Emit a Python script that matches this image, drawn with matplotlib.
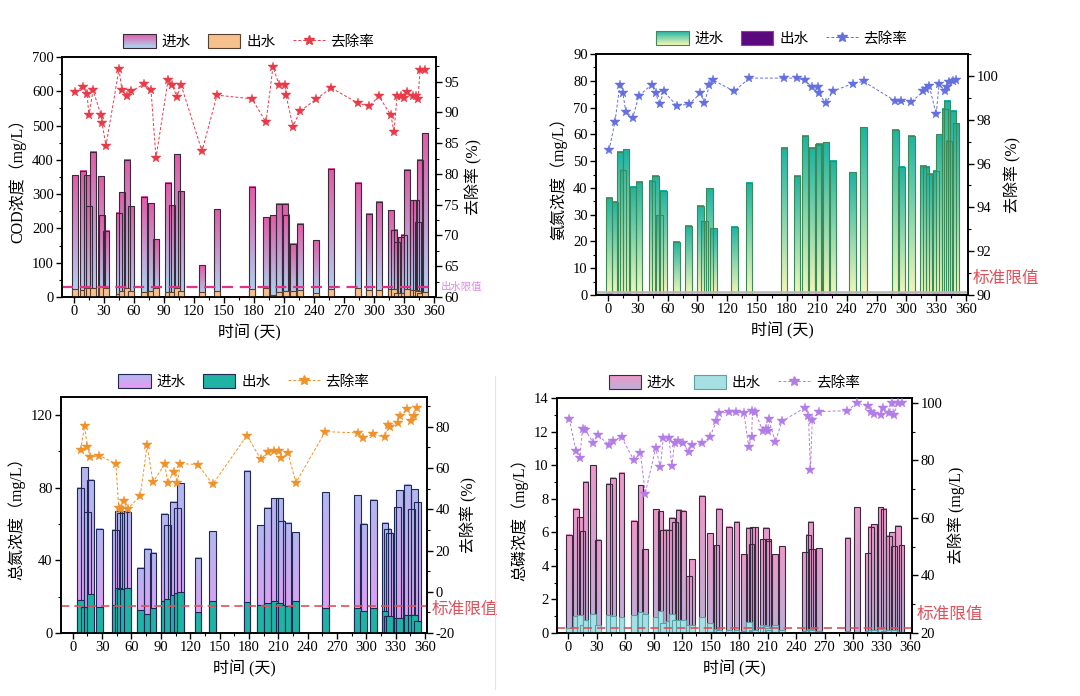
import numpy as np
import matplotlib
matplotlib.use('Agg')
import matplotlib.pyplot as plt
from matplotlib.colors import LinearSegmentedColormap, to_rgb
from matplotlib.patches import Rectangle, Patch
from matplotlib.lines import Line2D
from matplotlib.legend_handler import HandlerBase
from matplotlib.ticker import MultipleLocator, AutoMinorLocator
import matplotlib.transforms as mtransforms

plt.rcParams['font.family'] = ['Liberation Serif', 'Noto Sans CJK SC']
plt.rcParams['axes.unicode_minus'] = False

# ---------------- COD ----------------
cod_days = [1, 9, 13, 15, 19, 27, 28, 32, 45, 48, 53, 57, 70, 77, 82, 94, 98, 103, 107, 128,
            143, 178, 192, 199, 205, 211, 212, 219, 226, 242, 257, 284, 295, 305, 317, 320,
            323, 327, 330, 333, 339, 342, 344, 346, 351]
cod_in = [355, 368, 355, 264, 423, 352, 238, 193, 246, 305, 400, 264, 293, 274, 169, 333, 267,
          417, 309, 92, 256, 322, 232, 239, 272, 272, 240, 156, 213, 165, 374, 333, 243, 278,
          253, 196, 160, 175, 181, 371, 282, 282, 219, 400, 478]
cod_out = [22, 20, 25, 27, 25, 26, 28, 26, 8, 17, 27, 18, 14, 16, 26, 15, 14, 27, 17, 14, 17,
           24, 26, 6, 14, 16, 17, 18, 21, 12, 22, 26, 19, 20, 24, 24, 12, 13, 12, 22, 20, 20,
           16, 12, 15]
cod_rate = [93.3, 94.2, 93.0, 89.5, 93.6, 89.6, 88.3, 84.6, 97.0, 93.6, 92.7, 93.4, 94.6, 93.7,
            82.6, 95.2, 94.5, 92.5, 94.5, 83.7, 92.8, 92.2, 88.4, 97.4, 94.5, 94.5, 92.8, 87.7,
            90.2, 92.1, 94.0, 91.5, 91.0, 92.6, 89.5, 86.8, 92.6, 92.6, 92.3, 93.3, 92.6, 92.6,
            92.1, 96.9, 96.9]
cod_limit = 30

# ---------------- NH3-N ----------------
nh_days = [1, 7, 12, 15, 18, 25, 31, 44, 48, 52, 56, 69, 81, 93, 97, 102, 106, 127, 142, 177,
           190, 198, 205, 211, 212, 219, 226, 246, 257, 289, 295, 305, 317, 320, 323, 330, 333,
           339, 341, 343, 347, 350]
nh_in = [36.4, 34.9, 53.5, 46.8, 54.5, 40.5, 42.3, 42.6, 44.6, 29.8, 38.9, 19.8, 25.9, 33.3,
         27.6, 39.8, 24.9, 25.4, 41.9, 55.0, 44.5, 59.5, 55.0, 56.2, 56.4, 57.1, 50.2, 45.8,
         62.6, 61.7, 47.9, 59.5, 48.3, 47.9, 45.3, 46.5, 60.0, 69.6, 72.6, 57.6, 68.8, 64.2]
nh_out = [0.8, 0.3, 0.4, 0.3, 0.6, 0.4, 0.2, 0.2, 0.3, 0.3, 0.2, 0.2, 0.2, 0.2, 0.2, 0.1, 0.1,
          0.1, 0.1, 0.1, 0.2, 0.1, 0.2, 0.2, 0.3, 0.4, 0.3, 0.1, 0.2, 0.4, 0.6, 0.3, 0.2, 0.2,
          0.2, 0.6, 0.2, 0.3, 0.2, 0.2, 0.1, 0.1]
nh_rate = [96.6, 97.9, 99.6, 99.2, 98.35, 98.1, 99.1, 99.6, 99.2, 98.7, 99.3, 98.65, 98.7, 99.2,
           98.75, 99.6, 99.8, 99.3, 99.9, 99.9, 99.9, 99.8, 99.5, 99.5, 99.2, 98.75, 99.3, 99.65,
           99.75, 98.85, 98.85, 98.8, 99.3, 99.4, 99.55, 98.25, 99.65, 99.3, 99.5, 99.7, 99.75,
           99.8]
nh_limit = 1.0

# ---------------- TN ----------------
tn_days = [8, 12, 15, 18, 27, 44, 47, 49, 52, 56, 69, 76, 82, 94, 97, 103, 107, 110, 128, 143,
           178, 192, 199, 206, 211, 213, 220, 228, 258, 291, 297, 307, 319, 322, 324, 332, 334,
           342, 346, 349, 352]
tn_in = [80.1, 91.2, 66.7, 84.4, 57.5, 57.0, 67.1, 66.0, 67.0, 66.7, 36.0, 46.5, 44.3, 65.8,
         59.4, 72.2, 68.6, 82.4, 41.4, 56.0, 89.5, 59.4, 69.1, 74.1, 74.1, 61.8, 60.8, 55.5,
         77.4, 75.9, 60.3, 73.3, 60.8, 57.5, 55.3, 69.3, 78.5, 81.8, 68.2, 79.2, 71.9]
tn_out = [18.4, 14.5, 14.5, 21.5, 14.5, 15.3, 25.0, 24.0, 24.5, 25.0, 12.5, 10.5, 13.8, 17.8,
          18.6, 21.1, 22.0, 22.4, 11.6, 17.8, 17.1, 15.4, 16.5, 17.6, 16.4, 15.6, 14.9, 17.8,
          14.0, 14.0, 12.1, 13.6, 12.0, 9.4, 9.4, 8.3, 8.3, 9.7, 9.7, 9.7, 6.8]
tn_rate = [68.8, 80.3, 70.3, 65.2, 66.1, 62.2, 40.8, 40.1, 43.9, 40.1, 46.6, 71.1, 53.1, 62.2,
           52.8, 58.3, 52.9, 62.2, 61.7, 52.1, 75.8, 64.4, 67.7, 68.3, 68.3, 64.8, 67.2, 52.9,
           77.7, 77.1, 74.8, 76.4, 75.0, 81.0, 79.8, 82.1, 85.5, 88.6, 82.9, 85.5, 89.4]
tn_limit = 15

# ---------------- TP ----------------
tp_days = [1, 8, 12, 15, 18, 26, 31, 43, 47, 56, 69, 76, 81, 92, 97, 100, 106, 109, 112, 116,
           121, 127, 130, 141, 149, 156, 159, 169, 177, 185, 190, 193, 194, 197, 205, 208, 210,
           211, 218, 225, 249, 253, 255, 257, 264, 294, 304, 316, 319, 322, 329, 332, 338, 341,
           343, 347, 351]
tp_in = [5.85, 7.4, 6.9, 6.1, 9.0, 10.0, 5.56, 8.9, 9.26, 9.56, 6.7, 8.8, 4.98, 7.37, 7.25,
         6.15, 6.15, 6.87, 6.63, 7.33, 7.27, 3.37, 4.4, 8.19, 5.94, 5.24, 7.39, 6.33, 6.63, 4.7,
         6.27, 5.3, 6.3, 6.31, 5.6, 6.27, 5.6, 5.48, 4.7, 5.18, 4.8, 5.84, 6.63, 4.98, 5.04,
         5.68, 7.49, 4.74, 6.33, 6.47, 7.49, 7.39, 5.8, 6.0, 5.18, 6.39, 5.24]
tp_out = [0.3, 1.0, 1.1, 0.5, 0.75, 1.15, 0.5, 1.1, 1.0, 0.98, 1.06, 1.28, 1.15, 0.95, 1.3,
          0.62, 0.7, 1.15, 0.76, 0.8, 0.78, 0.5, 0.5, 0.95, 0.58, 0.26, 0.18, 0.16, 0.16, 0.12,
          0.68, 0.2, 0.1, 0.15, 0.45, 0.4, 0.3, 0.2, 0.5, 0.2, 0.1, 0.15, 0.25, 0.2, 0.12, 0.1,
          0.05, 0.1, 0.2, 0.2, 0.25, 0.12, 0.2, 0.05, 0.15, 0.05, 0.05]
tp_rate = [94.5, 83.4, 80.8, 91.0, 90.6, 86.2, 88.7, 85.5, 86.9, 88.1, 80.1, 82.6, 68.5, 84.3,
           77.7, 87.7, 87.7, 78.1, 86.2, 86.9, 85.9, 82.9, 85.2, 85.9, 88.1, 93.6, 96.5, 96.7,
           96.7, 96.5, 84.7, 88.0, 97.1, 96.7, 90.1, 91.0, 90.1, 94.5, 86.4, 93.6, 98.3, 95.3,
           76.6, 94.2, 97.0, 97.3, 100.0, 98.8, 96.7, 96.2, 95.7, 98.3, 96.5, 100.0, 95.9,
           100.0, 100.0]
tp_limit = 0.3

labels = ['进水', '出水', '去除率']
xticks = list(range(0, 361, 30))


class GradHandler(HandlerBase):
    """legend key drawn as vertical gradient"""
    def __init__(self, c_bot, c_top, edge):
        super().__init__()
        self.c_bot = np.array(to_rgb(c_bot))
        self.c_top = np.array(to_rgb(c_top))
        self.edge = edge

    def create_artists(self, legend, orig_handle, xdescent, ydescent, width, height, fontsize, trans):
        arts = []
        n = 14
        for k in range(n):
            f = (k + 0.5) / n
            c = self.c_bot * (1 - f) + self.c_top * f
            arts.append(Rectangle((-xdescent, -ydescent + k * height / n), width, height / n + 0.3,
                                  facecolor=c, edgecolor='none', transform=trans))
        arts.append(Rectangle((-xdescent, -ydescent), width, height, facecolor='none',
                              edgecolor=self.edge, lw=0.8, transform=trans))
        return arts


def draw_panel(rect, days, inflow, outflow, rate, st):
    ax = fig.add_axes(rect)
    cmap = LinearSegmentedColormap.from_list('g', [st['bot'], st['top']])
    grad = np.linspace(0, 1, 128).reshape(-1, 1)
    w = st['width']
    # 渐变柱: 每根柱子一张小图
    for i, (d, h) in enumerate(zip(days, inflow)):
        ax.imshow(grad, extent=[d - w / 2, d + w / 2, 0, h], origin='lower', aspect='auto',
                  cmap=cmap, interpolation='bilinear', zorder=2 + i * 0.001)
    ax.bar(days, inflow, width=w, facecolor='none', edgecolor=st['edge'], linewidth=0.8, zorder=2.6)
    ax.bar(days, outflow, width=w, facecolor=st['out'], edgecolor=st['out_edge'], linewidth=0.8,
           zorder=3)
    ax.axhline(st['limit'], ls=st['limit_ls'], color=st['limit_c'], lw=st['limit_lw'], zorder=4)

    ax.set_xlim(-12, 362)
    ax.set_ylim(0, st['ymax'])
    ax.set_xticks(xticks)
    ax.xaxis.set_minor_locator(MultipleLocator(15))
    ax.yaxis.set_major_locator(MultipleLocator(st['ystep']))
    ax.yaxis.set_minor_locator(AutoMinorLocator(2))
    ax.set_xlabel('时间 (天)', fontsize=11.5)
    ax.set_ylabel(st['ylabel'], fontsize=11.5)

    ax2 = ax.twinx()
    ax2.plot(days, rate, ls=(0, (3, 2)), lw=0.7, color=st['rate_c'], marker='*', ms=7.5,
             markeredgewidth=0.3, zorder=5)
    ax2.set_ylim(st['rmin'], st['rmax'])
    ax2.yaxis.set_major_locator(MultipleLocator(st['rstep']))
    ax2.yaxis.set_minor_locator(AutoMinorLocator(2))
    ax2.set_ylabel(st['rlabel'], fontsize=11.5)

    for a in (ax, ax2):
        for sp in a.spines.values():
            sp.set_linewidth(1.2)
        a.tick_params(which='major', direction='out', length=4, width=1, labelsize=10.5, pad=2)
        a.tick_params(which='minor', direction='out', length=2, width=0.8)

    tr = mtransforms.blended_transform_factory(ax.transAxes, ax.transData)
    ax.text(1.012, st['note_y'], st['note'], transform=tr, color=st['note_c'],
            fontsize=st['note_fs'], va='center', ha='left', family=['Noto Sans CJK SC'])

    h_in = Patch(facecolor='none')
    h_out = Patch(facecolor=st['out'], edgecolor=st['out_edge'], lw=0.8)
    h_rate = Line2D([], [], ls=(0, (3, 2)), lw=0.7, color=st['rate_c'], marker='*', ms=7.5)
    ax2.legend([h_in, h_out, h_rate], labels,
               handler_map={h_in: GradHandler(st['bot'], st['top'], st['edge'])},
               loc='lower center', bbox_to_anchor=(0.5, 1.0), ncol=3, frameon=False,
               fontsize=10.5, handlelength=2.2, handleheight=1.1, columnspacing=1.2,
               handletextpad=0.4, borderaxespad=0.15)
    return ax


fig = plt.figure(figsize=(10.8, 6.96), dpi=100)

draw_panel([0.0574, 0.5733, 0.3463, 0.3448], cod_days, cod_in, cod_out, cod_rate, dict(
    width=6, bot='#a9d8f3', top='#e35aa8', edge='#3a2a3a', out='#f7c18e', out_edge='#5a4030',
    limit=cod_limit, limit_ls=(0, (5, 3)), limit_c='#e0338a', limit_lw=1.6,
    ymax=700, ystep=100, ylabel='COD浓度（mg/L）',
    rate_c='#e83a48', rmin=60, rmax=99, rstep=5, rlabel='去除率 (%)',
    note='出水限值', note_y=cod_limit - 2, note_c='#d98be0', note_fs=7.5))

draw_panel([0.5519, 0.5761, 0.3444, 0.3463], nh_days, nh_in, nh_out, nh_rate, dict(
    width=6.5, bot='#f6f7b8', top='#1db3a3', edge='#3a8a5a', out='#5a0a7e', out_edge='#c020c0',
    limit=nh_limit, limit_ls='-', limit_c='#b8b8b8', limit_lw=1.8,
    ymax=90, ystep=10, ylabel='氨氮浓度（mg/L）',
    rate_c='#6470e0', rmin=90, rmax=101, rstep=2, rlabel='去除率 (%)',
    note='标准限值', note_y=6.3, note_c='#e0505a', note_fs=12))

draw_panel([0.0565, 0.0905, 0.3389, 0.3391], tn_days, tn_in, tn_out, tn_rate, dict(
    width=7, bot='#e69af0', top='#b3b7f0', edge='#1e2a55', out='#1fb3a4', out_edge='#1e2a55',
    limit=tn_limit, limit_ls=(0, (5, 3)), limit_c='#e0505a', limit_lw=1.2,
    ymax=130, ystep=40, ylabel='总氮浓度（mg/L）',
    rate_c='#f0922a', rmin=-20, rmax=94.5, rstep=20, rlabel='去除率 (%)',
    note='标准限值', note_y=13.2, note_c='#e0505a', note_fs=12))

draw_panel([0.5157, 0.0905, 0.3287, 0.3376], tp_days, tp_in, tp_out, tp_rate, dict(
    width=6, bot='#bcaed6', top='#ee98c8', edge='#3a2a40', out='#a6e0e2', out_edge='#5aa0a8',
    limit=tp_limit, limit_ls=(0, (5, 3)), limit_c='#e0505a', limit_lw=1.2,
    ymax=14, ystep=2, ylabel='总磷浓度（mg/L）',
    rate_c='#b37ce8', rmin=20, rmax=101.7, rstep=20, rlabel='去除率 (mg/L)',
    note='标准限值', note_y=1.1, note_c='#e0505a', note_fs=12))

fig.add_artist(Line2D([495 / 1080, 495 / 1080], [0.01, 0.46], color='#e4e4e4', lw=0.8))

fig.savefig('out.png', dpi=100)
